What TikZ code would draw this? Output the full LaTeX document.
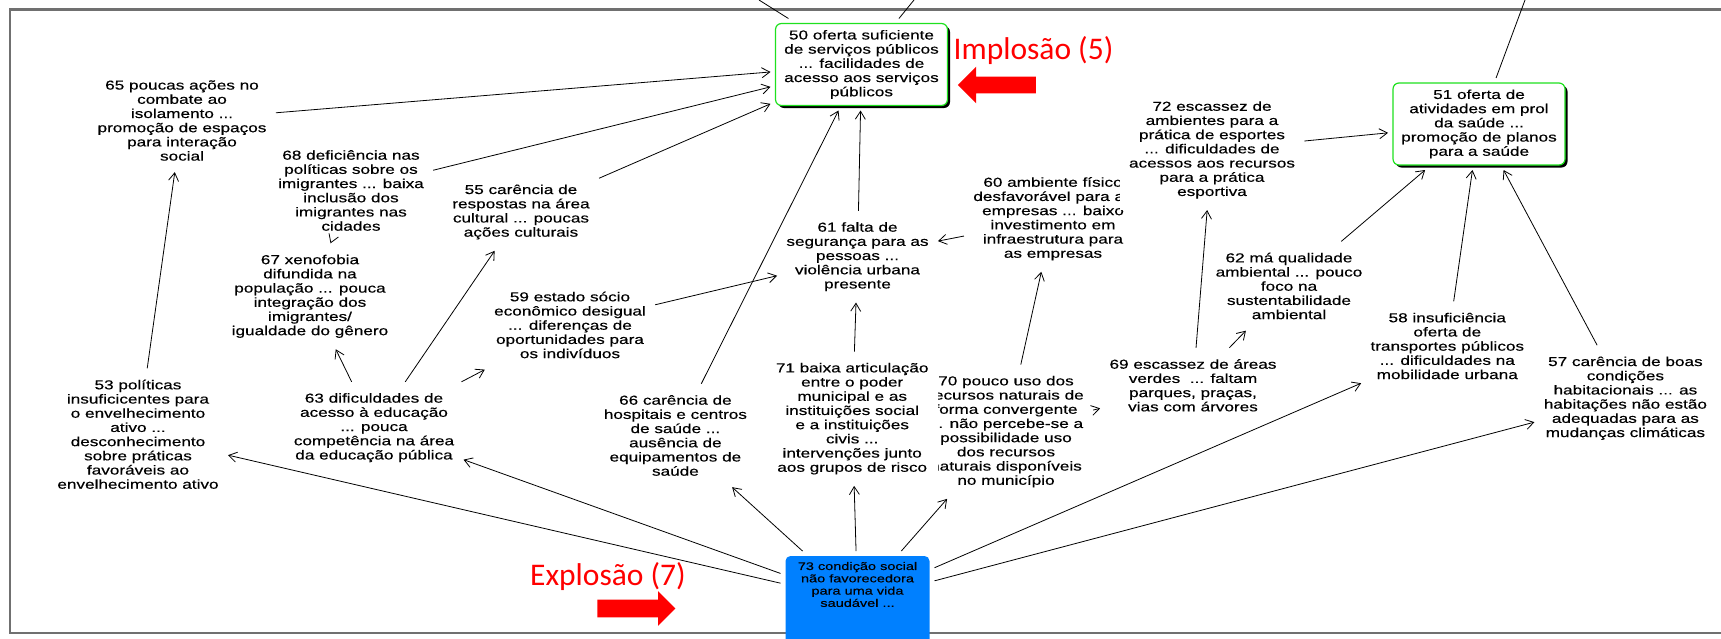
\documentclass[tikz,border=0pt]{standalone}
\usepackage{fontspec}
\setmainfont{Liberation Sans}[FakeStretch=1.32,FakeBold=0.35]
\newfontfamily\labelfont{Carlito}
\usetikzlibrary{arrows.meta,shapes.arrows,shadows}
\tikzset{
    %Define standard arrow tip
    >={Straight Barb[length=8pt,width=10pt]},
    %Define style for concepts
    concept/.style={
           align=center,
           fill=white,
           inner xsep=9pt,
           inner ysep=11pt,
           font=\fontsize{13}{14.2}\selectfont},
    goalbox/.style={
           concept,
           draw={rgb,255:red,30;green,225;blue,30},
           line width=1.2pt,
           rounded corners=6pt,
           inner sep=2pt,
           outer sep=5pt,
           minimum width=172pt,
           minimum height=82pt,
           drop shadow={shadow xshift=2.5pt,shadow yshift=-2.5pt,opacity=1,fill=black}},
    rootbox/.style={
           fill={rgb,255:red,0;green,128;blue,255},
           rounded corners=5pt,
           inner sep=6pt,
           outer sep=5pt,
           font=\fontsize{11}{12.3}\selectfont},
    % Define style for the red marks
    redlabel/.style={
           text=red,
           font=\labelfont\fontsize{31.5}{36}\selectfont},
    bigarrow/.style={
           single arrow,
           fill=red,
           inner xsep=0pt,
           minimum height=78pt},
    frameline/.style={
           -,
           draw={rgb,255:red,112;green,112;blue,112},
           line width=2.6pt}
}
\begin{document}
\begin{tikzpicture}[->,x=1pt,y=-1pt,line width=0.8pt]
\useasboundingbox (0,0) rectangle (1721,638);
\draw[frameline] (10,9.5) rectangle (1745,633);

\node[concept](65) at (182,120.5){65 poucas ações no\\combate ao\\isolamento ...\\promoção de espaços\\para interação\\social};
\node[concept](68) at (351,190.5){68 deficiência nas\\políticas sobre os\\imigrantes ... baixa\\inclusão dos\\imigrantes nas\\cidades};
\node[concept](67) at (310,296.3){67 xenofobia\\difundida na\\população ... pouca\\integração dos\\imigrantes/\\igualdade do gênero};
\node[concept](55) at (521,212){55 carência de\\respostas na área\\cultural ... poucas\\ações culturais};
\node[concept](59) at (570,325){59 estado sócio\\econômico desigual\\... diferenças de\\oportunidades para\\os indivíduos};
\node[concept](53) at (138,434.3){53 políticas\\insuficicentes para\\o envelhecimento\\ativo ...\\desconhecimento\\sobre práticas\\favoráveis ao\\envelhecimento ativo};
\node[concept](63) at (374,427.7){63 dificuldades de\\acesso à educação\\... pouca\\competência na área\\da educação pública};
\node[concept](66) at (675.4,435.5){66 carência de\\hospitais e centros\\de saúde ...\\ausência de\\equipamentos de\\saúde};
\node[concept](61) at (857.5,256.7){61 falta de\\segurança para as\\pessoas ...\\violência urbana\\presente};
\node[concept](70) at (1006,431.7){70 pouco uso dos\\recursos naturais de\\forma convergente\\... não percebe-se a\\possibilidade uso\\dos recursos\\naturais disponíveis\\no município};
\node[concept](71) at (852.2,418.7){71 baixa articulação\\entre o poder\\municipal e as\\instituições social\\e a instituições\\civis ...\\intervenções junto\\aos grupos de risco};
\node[concept](60) at (1053,218.8){60 ambiente físico\\desfavorável para as\\empresas ... baixo\\investimento em\\infraestrutura para\\as empresas};
\node[concept](72) at (1212,150){72 escassez de\\ambientes para a\\prática de esportes\\... dificuldades de\\acessos aos recursos\\para a prática\\esportiva};
\node[concept](62) at (1289,286){62 má qualidade\\ambiental ... pouco\\foco na\\sustentabilidade\\ambiental};
\node[concept](69) at (1193,385.3){69 escassez de áreas\\verdes\ \ ... faltam\\parques, praças,\\vias com árvores};
\node[concept](58) at (1447.3,346){58 insuficiência\\oferta de\\transportes públicos\\... dificuldades na\\mobilidade urbana};
\node[concept](57) at (1625.4,398.2){57 carência de boas\\condições\\habitacionais ... as\\habitações não estão\\adequadas para as\\mudanças climáticas};

\node[goalbox](50) at (861.5,64.5){50 oferta suficiente\\de serviços públicos\\... facilidades de\\acesso aos serviços\\públicos};
\node[goalbox](51) at (1479,124){51 oferta de\\atividades em prol\\da saúde ...\\promoção de planos\\para a saúde};
\node[rootbox, anchor=north](73) at (857.5,551){\parbox[t][78pt][t]{132pt}{\centering 73 condição social\\não favorecedora\\para uma vida\\saudável ...}};

\node[redlabel, anchor=base](implosao) at (1033.5,59.3){Implosão (5)};
\node[bigarrow, inner ysep=8pt, single arrow head extend=10pt, shape border rotate=180](implarrow) at (1001,85){};
\node[redlabel, anchor=base](explosao) at (608,585){Explosão (7)};
\node[bigarrow, inner ysep=8.5pt, single arrow head extend=8.5pt](explarrow) at (632,608.5){};

\coordinate (up1) at (759,0);
\coordinate (up2) at (914,0);
\coordinate (up3) at (1525,0);

\path
    (65) edge (50)
    (68) edge (50)
    (55) edge (50)
    (66) edge (50)
    (61) edge (50)
    (72) edge (51)
    (62) edge (51)
    (58) edge (51)
    (57) edge (51)
    (53) edge (65)
    (68) edge (67)
    (63) edge (67) edge (55) edge (59)
    (59) edge (61)
    (60) edge (61)
    (71) edge (61)
    (70) edge (60) edge (69)
    (69) edge (72) edge (62)
    (73) edge (53) edge (63) edge (66) edge (71) edge (70) edge (58) edge (57)
    (50) edge[-] (up1) edge[-] (up2)
    (51) edge[-] (up3);
\end{tikzpicture}
\end{document}
